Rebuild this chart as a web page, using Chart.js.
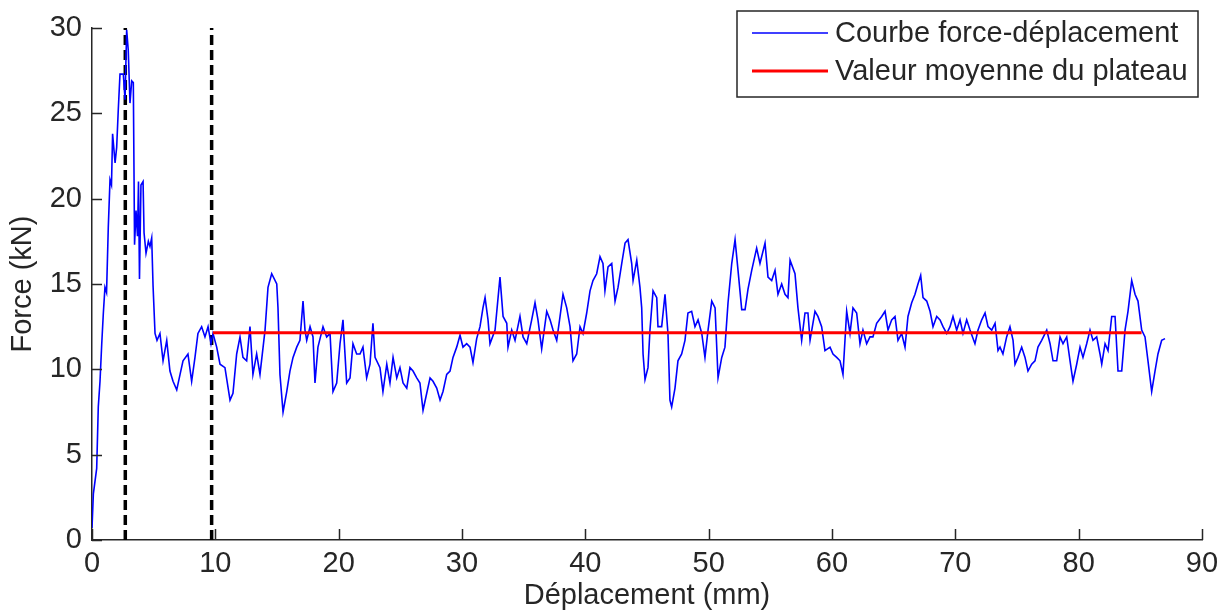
<!DOCTYPE html>
<html lang="fr">
<head>
<meta charset="UTF-8" />
<title>Courbe force-déplacement</title>
<script src="https://cdn.jsdelivr.net/npm/chart.js"></script>
<style>
  html, body { margin: 0; padding: 0; background: #fff; }
  #wrap { width: 1223px; height: 610px; }
</style>
</head>
<body>
<div id="wrap"><canvas id="chart" width="1223" height="610"></canvas></div>
<script>
// déplacement (mm)
const displacement = [
  0.00, 0.11, 0.38, 0.51, 0.65, 0.79, 0.92, 1.05, 1.18, 1.32, 1.46, 1.58, 1.67, 1.87, 2.00, 2.13, 2.27, 2.54,
  2.68, 2.81, 2.94, 3.08, 3.22, 3.35, 3.45, 3.57, 3.69, 3.77, 3.85, 3.97, 4.14, 4.22, 4.38, 4.57, 4.70, 4.84,
  4.95, 5.11, 5.27, 5.51, 5.76, 6.06, 6.32, 6.57, 6.87, 7.14, 7.38, 7.78, 8.08, 8.35, 8.59, 8.89, 9.16, 9.41,
  9.65, 9.81, 10.11, 10.38, 10.78, 11.19, 11.43, 11.73, 12.00, 12.24, 12.54, 12.81, 13.05, 13.35, 13.62, 14.03,
  14.27, 14.57, 14.98, 15.08, 15.24, 15.49, 15.79, 16.05, 16.30, 16.60, 16.86, 17.11, 17.27, 17.41, 17.68, 17.92,
  18.08, 18.32, 18.73, 19.03, 19.30, 19.54, 19.84, 20.11, 20.35, 20.65, 20.92, 21.16, 21.46, 21.73, 21.97, 22.27,
  22.54, 22.78, 22.95, 23.35, 23.59, 23.90, 24.16, 24.41, 24.71, 24.97, 25.22, 25.52, 25.78, 26.03, 26.33, 26.59,
  26.84, 27.14, 27.41, 27.65, 27.95, 28.22, 28.46, 28.76, 29.03, 29.27, 29.57, 29.84, 30.08, 30.38, 30.65, 30.89,
  31.19, 31.46, 31.70, 31.87, 32.11, 32.27, 32.68, 33.08, 33.33, 33.63, 33.73, 34.03, 34.30, 34.70, 34.95, 35.25,
  35.65, 35.92, 36.16, 36.46, 36.87, 37.14, 37.38, 37.68, 37.95, 38.19, 38.49, 38.76, 39.00, 39.30, 39.57, 39.81,
  40.11, 40.38, 40.62, 40.92, 41.19, 41.43, 41.59, 41.84, 42.14, 42.41, 42.65, 42.95, 43.22, 43.46, 43.76, 43.87,
  44.17, 44.43, 44.57, 44.68, 44.84, 45.08, 45.24, 45.49, 45.79, 45.89, 46.19, 46.46, 46.70, 46.86, 47.00, 47.27,
  47.51, 47.81, 48.08, 48.32, 48.62, 48.89, 49.14, 49.44, 49.70, 49.95, 50.25, 50.52, 50.76, 51.06, 51.32, 51.57,
  51.87, 52.14, 52.38, 52.68, 52.95, 53.19, 53.49, 53.89, 54.16, 54.57, 54.81, 55.11, 55.38, 55.62, 55.92, 56.19,
  56.43, 56.60, 57.00, 57.24, 57.54, 57.81, 58.05, 58.22, 58.62, 58.86, 59.16, 59.43, 59.84, 60.08, 60.38, 60.65,
  60.89, 61.19, 61.46, 61.70, 62.00, 62.27, 62.51, 62.81, 63.08, 63.32, 63.62, 64.03, 64.30, 64.54, 64.84, 65.11,
  65.35, 65.65, 65.92, 66.16, 66.46, 66.73, 66.97, 67.19, 67.38, 67.68, 67.95, 68.19, 68.49, 68.76, 69.00, 69.30,
  69.57, 69.81, 70.11, 70.38, 70.62, 70.92, 71.19, 71.59, 71.84, 72.14, 72.41, 72.65, 72.95, 73.22, 73.46, 73.62,
  73.86, 74.16, 74.43, 74.68, 74.84, 75.08, 75.38, 75.65, 75.89, 76.19, 76.46, 76.70, 77.00, 77.41, 77.68, 77.92,
  78.22, 78.49, 78.73, 79.03, 79.30, 79.54, 79.84, 80.11, 80.35, 80.65, 80.92, 81.16, 81.46, 81.73, 81.87, 82.14,
  82.38, 82.68, 82.95, 83.19, 83.49, 83.76, 84.00, 84.30, 84.57, 84.81, 85.11, 85.38, 85.62, 85.92, 86.19, 86.43,
  86.73, 87.00
];

// force (kN), same order
const force = [
  0.7, 2.7, 4.2, 7.8, 9.3, 11.5, 13.3, 14.8, 14.5, 18.3, 21.1, 20.8, 23.8, 22.1, 23.0, 25.2, 27.3, 27.3,
  25.8, 29.9, 28.7, 25.6, 26.9, 26.8, 17.3, 19.3, 17.8, 21.0, 15.3, 20.8, 21.0, 18.0, 16.8, 17.5, 17.2, 17.7,
  14.9, 12.1, 11.7, 12.1, 10.5, 11.7, 9.9, 9.3, 8.8, 9.7, 10.5, 10.9, 9.3, 10.7, 12.1, 12.5, 11.9, 12.5,
  11.5, 12.1, 11.3, 10.3, 10.1, 8.2, 8.6, 10.9, 11.9, 10.7, 10.5, 12.5, 9.7, 10.9, 9.7, 12.3,
  14.8, 15.6, 15.0, 13.6, 9.7, 7.5, 8.7, 9.9, 10.7, 11.3, 11.7, 14.0, 12.3, 11.7, 12.5, 11.9,
  9.2, 11.3, 12.5, 11.9, 12.1, 8.7, 9.2, 11.5, 12.9, 9.2, 9.5, 11.5, 10.9, 10.9, 11.3, 9.5,
  10.3, 12.7, 10.7, 10.1, 8.7, 10.3, 9.2, 10.7, 9.5, 10.1, 9.2, 8.9, 10.1, 9.9, 9.5, 9.2,
  7.6, 8.6, 9.5, 9.3, 8.9, 8.2, 8.7, 9.7, 9.9, 10.7, 11.3, 12.0, 11.3, 11.5, 11.3, 10.4,
  11.8, 12.5, 13.6, 14.2, 12.9, 11.5, 12.3, 15.4, 13.1, 12.7, 11.3, 12.3, 11.7, 13.1, 11.9, 11.5,
  12.9, 13.9, 12.9, 11.2, 13.4, 12.9, 12.3, 11.7, 13.1, 14.4, 13.6, 12.5, 10.5, 10.9, 12.5, 12.1,
  13.3, 14.6, 15.2, 15.6, 16.6, 16.2, 14.6, 16.0, 16.2, 14.0, 14.8, 16.2, 17.4, 17.6, 16.2, 15.2,
  16.4, 14.8, 13.6, 10.9, 9.4, 10.1, 12.3, 14.6, 14.2, 12.5, 12.5, 14.4, 12.1, 8.2, 7.8, 8.9,
  10.5, 10.9, 11.7, 13.3, 13.4, 12.5, 12.9, 12.1, 10.7, 12.3, 14.0, 13.6, 9.5, 10.7, 11.3, 13.9,
  16.2, 17.6, 15.8, 13.5, 13.5, 14.7, 15.8, 17.1, 16.2, 17.4, 15.4, 15.2, 15.8, 14.4, 15.0, 14.4,
  14.2, 16.4, 15.6, 13.6, 11.7, 13.3, 13.3, 11.7, 13.4, 13.1, 12.5, 11.1, 11.3, 10.9, 10.7, 10.5,
  9.7, 13.4, 12.1, 13.6, 13.3, 11.5, 12.3, 11.5, 11.9, 11.9, 12.7, 13.1, 13.4, 12.3, 12.9, 13.1,
  11.7, 12.1, 11.3, 13.1, 13.9, 14.4, 15.0, 15.5, 14.2, 14.0, 13.4, 12.5, 13.1, 12.9, 12.5, 12.1,
  12.5, 13.1, 12.3, 12.9, 12.1, 12.9, 12.3, 11.5, 12.3, 12.9, 13.3, 12.5, 12.3, 12.7, 11.1, 11.3,
  10.9, 11.9, 12.5, 11.7, 10.3, 10.7, 11.3, 10.7, 9.9, 10.3, 10.5, 11.3, 11.7, 12.3, 11.5, 10.5,
  10.5, 11.9, 11.5, 11.9, 10.5, 9.3, 10.3, 11.3, 10.7, 11.5, 12.3, 11.7, 11.9, 10.9, 10.3, 11.5,
  11.1, 13.1, 13.1, 9.9, 9.9, 12.3, 13.4, 15.2, 14.4, 14.0, 12.3, 11.9, 10.5, 8.7, 9.9, 10.9,
  11.7, 11.8
];

// plateau mean and the two vertical markers
const plateauMean = 12.15;
const plateauRange = [9.8, 85.1];
const markerX = [2.7, 9.7];
const forceRange = [0, 30];

const xTicks = [0, 10, 20, 30, 40, 50, 60, 70, 80, 90];
const yTicks = [0, 5, 10, 15, 20, 25, 30];

const axisColor = '#262626';
const fontFamily = '"Liberation Sans", Arial, sans-serif';
const fontSize = 29;

const curvePoints = displacement.map((x, i) => ({ x: x, y: force[i] }));

// tick marks point into the plot, matlab style
const innerTicks = {
  id: 'innerTicks',
  afterDatasetsDraw(chart) {
    const { ctx, chartArea, scales } = chart;
    ctx.save();
    ctx.strokeStyle = axisColor;
    ctx.lineWidth = 1.5;
    ctx.beginPath();
    xTicks.forEach(v => {
      const px = Math.round(scales.x.getPixelForValue(v)) + 0.5;
      ctx.moveTo(px, chartArea.bottom);
      ctx.lineTo(px, chartArea.bottom - 11);
    });
    yTicks.forEach(v => {
      const py = Math.round(scales.y.getPixelForValue(v)) + 0.5;
      ctx.moveTo(chartArea.left, py);
      ctx.lineTo(chartArea.left + 10, py);
    });
    ctx.stroke();
    ctx.restore();
  }
};

// boxed legend in the top right corner
const boxLegend = {
  id: 'boxLegend',
  afterDraw(chart) {
    const { ctx } = chart;
    const items = chart.data.datasets.filter(d => d.legend);
    const left = 737, top = 11, w = 461, h = 86;
    ctx.save();
    ctx.fillStyle = '#fff';
    ctx.fillRect(left, top, w, h);
    ctx.strokeStyle = axisColor;
    ctx.lineWidth = 1.5;
    ctx.strokeRect(left, top, w, h);
    ctx.font = fontSize + 'px ' + fontFamily;
    ctx.textBaseline = 'middle';
    ctx.fillStyle = axisColor;
    items.sort((a, b) => a.legend - b.legend).forEach((d, i) => {
      const y = top + 22 + i * 38;
      ctx.strokeStyle = d.borderColor;
      ctx.lineWidth = d.borderWidth;
      ctx.beginPath();
      ctx.moveTo(left + 15, y);
      ctx.lineTo(left + 91, y);
      ctx.stroke();
      ctx.fillText(d.label, left + 98, y + 1);
    });
    ctx.restore();
  }
};

new Chart(document.getElementById('chart'), {
  type: 'scatter',
  data: {
    datasets: [
      {
        label: 'Valeur moyenne du plateau',
        legend: 2,
        data: plateauRange.map(x => ({ x: x, y: plateauMean })),
        showLine: true,
        borderColor: '#ff0000',
        borderWidth: 3,
        pointRadius: 0,
        order: 0
      },
      {
        label: 'Courbe force-déplacement',
        legend: 1,
        data: curvePoints,
        showLine: true,
        borderColor: '#0000ff',
        borderWidth: 1.6,
        pointRadius: 0,
        order: 1
      },
      ...markerX.map(x => ({
        label: 'marker',
        data: forceRange.map(y => ({ x: x, y: y })),
        showLine: true,
        borderColor: '#000',
        borderWidth: 3.5,
        borderDash: [10, 5],
        pointRadius: 0,
        order: 2
      }))
    ]
  },
  options: {
    responsive: false,
    animation: false,
    layout: { padding: { top: 28, right: 21, left: 0, bottom: 0 } },
    plugins: { legend: { display: false }, tooltip: { enabled: false } },
    scales: {
      x: {
        type: 'linear',
        min: 0, max: 90,
        afterBuildTicks: s => { s.ticks = xTicks.map(v => ({ value: v })); },
        afterFit: s => { s.height = 70; s.paddingRight = 0; s.paddingLeft = 0; },
        grid: { display: true, drawOnChartArea: false, drawTicks: false },
        border: { color: axisColor, width: 1.5 },
        ticks: { color: axisColor, padding: 9, font: { family: fontFamily, size: fontSize, lineHeight: 1 } },
        title: {
          display: true, text: 'Déplacement (mm)', color: axisColor,
          font: { family: fontFamily, size: fontSize, lineHeight: 1 },
          padding: { top: 0, bottom: 0 }
        }
      },
      y: {
        type: 'linear',
        min: 0, max: 30,
        afterBuildTicks: s => { s.ticks = yTicks.map(v => ({ value: v })); },
        afterFit: s => { s.width = 92; },
        grid: { display: true, drawOnChartArea: false, drawTicks: false },
        border: { color: axisColor, width: 1.5 },
        ticks: { color: axisColor, padding: 10, font: { family: fontFamily, size: fontSize, lineHeight: 1 } },
        title: {
          display: true, text: 'Force (kN)', color: axisColor,
          font: { family: fontFamily, size: fontSize, lineHeight: 1 },
          padding: { top: 8, bottom: 0 }
        }
      }
    }
  },
  plugins: [innerTicks, boxLegend]
});
</script>
</body>
</html>
